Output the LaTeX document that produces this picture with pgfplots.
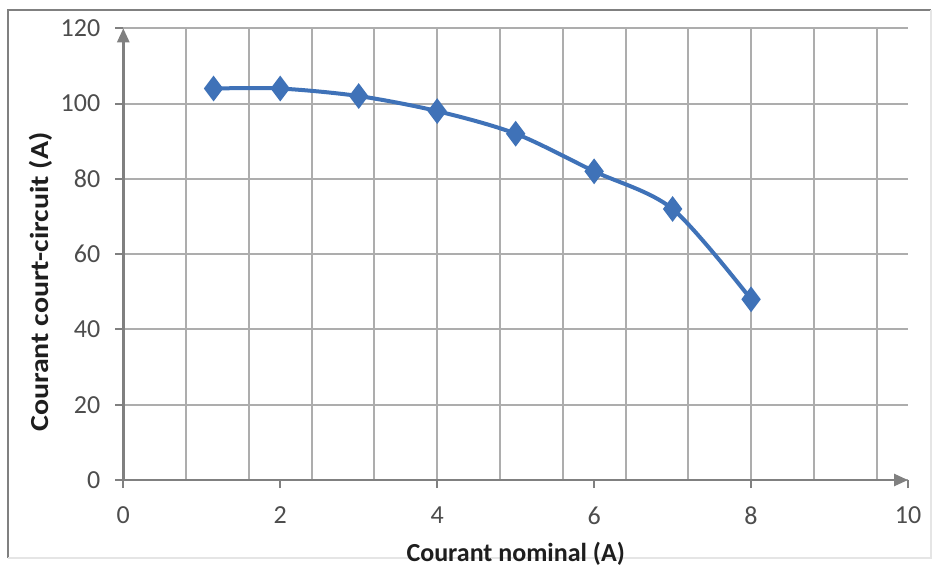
\documentclass[border=0pt]{standalone}
\usepackage{graphicx}
\usepackage{pgfplots}
\pgfplotsset{compat=1.18}
\usepackage{fontspec}
\setmainfont{Carlito}
\usetikzlibrary{arrows.meta}
\definecolor{gridc}{HTML}{ADADAD}
\definecolor{axc}{HTML}{808080}
\definecolor{tickc}{HTML}{4D4D4D}
\definecolor{serc}{HTML}{3F72B8}
\definecolor{labc}{HTML}{1E1E1E}
\begin{document}
\begin{tikzpicture}
\fill[white] (-61.65pt,240pt) rectangle (405.85pt,-44pt);
\draw[axc, line width=1pt] (-57.4pt,-39pt) -- (-57.4pt,235pt) -- (403.85pt,235pt);
\draw[black!10, line width=0.6pt] (403.85pt,235pt) -- (403.85pt,-39pt) -- (-57.4pt,-39pt);
\begin{axis}[
  at={(0pt,0pt)}, anchor=south west,
  scale only axis, width=392.35pt, height=225.85pt,
  xmin=0, xmax=10, ymin=0, ymax=120,
  axis lines=left,
  axis line style={axc, line width=1.3pt},
  x axis line style={-{Triangle[length=7pt,width=6pt]}},
  y axis line style={-{Triangle[length=7pt,width=6pt]}},
  every outer x axis line/.append style={-{Triangle[length=7pt,width=6pt]}},
  every outer y axis line/.append style={-{Triangle[length=7pt,width=6pt]}},
  xtick={0,2,4,6,8,10}, ytick={0,20,40,60,80,100,120},
  minor xtick={0.8,1.6,2.4,3.2,4.0,4.8,5.6,6.4,7.2,8.0,8.8,9.6},
  xminorgrids, ymajorgrids,
  grid style={gridc, line width=1pt},
  minor grid style={gridc, line width=1pt},
  tick align=outside, major tick length=4pt, minor tick length=0pt,
  tick style={axc, line width=1pt},
  /pgf/number format/assume math mode=true,
  tick label style={font=\fontsize{13}{15}\selectfont, text=tickc},
  xticklabel style={yshift=-6pt},
  yticklabel style={xshift=-4pt},
  xlabel={\textbf{Courant nominal (A)}},
  ylabel={\scalebox{1.15}[1]{\textbf{Courant court-circuit (A)}}},
  label style={font=\fontsize{13}{15}\selectfont, text=labc},
  xlabel style={at={(axis description cs:0.5,-0.1793)}, anchor=base},
  ylabel style={at={(axis description cs:-0.0958,0.438)}, anchor=base},
]
\addplot[serc, line width=2pt, smooth, tension=0.5, mark=diamond*, mark size=4.8pt, mark options={solid, fill=serc}]
  coordinates {(1.15,104) (2,104) (3,102) (4,98) (5,92) (6,82) (7,72) (8,48)};
\end{axis}
\end{tikzpicture}
\end{document}
